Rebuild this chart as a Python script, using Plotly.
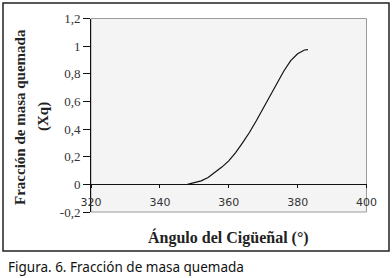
import plotly.graph_objects as go

# Data
angle = [348, 350, 352, 354, 356, 358, 360, 362, 364, 366, 368, 370, 372, 374, 376, 378, 380, 382, 383]
xq = [0.0, 0.01, 0.025, 0.05, 0.085, 0.125, 0.17, 0.23, 0.30, 0.375, 0.46, 0.55, 0.64, 0.735, 0.82, 0.895, 0.945, 0.972, 0.975]

y_tickvals = [-0.2, 0, 0.2, 0.4, 0.6, 0.8, 1.0, 1.2]
y_ticktext = ["-0,2", "0", "0,2", "0,4", "0,6", "0,8", "1", "1,2"]
x_tickvals = [320, 340, 360, 380, 400]
x_ticktext = ["320", "340", "360", "380", "400"]

W, H = 392, 278
x0d, x1d = 91 / W, 366.5 / W
y0d, y1d = 1 - 212 / H, 1 - 18.5 / H
zero_pos = y0d + (y1d - y0d) * (0.2 / 1.4)

fig = go.Figure()
fig.add_trace(go.Scatter(x=angle, y=xq, mode="lines",
                         line=dict(color="#111111", width=1.2),
                         showlegend=False, hoverinfo="skip"))

fig.update_layout(
    template="none",
    width=W, height=H, autosize=False,
    margin=dict(l=0, r=0, t=0, b=0, pad=0),
    paper_bgcolor="white",
    plot_bgcolor="#f4f4f4",
    xaxis=dict(domain=[x0d, x1d], range=[320, 400], anchor="free", position=zero_pos,
               automargin=False,
               showgrid=False, zeroline=False, showline=True, linecolor="#111111", linewidth=1,
               ticks="outside", ticklen=3, tickcolor="#111111",
               tickvals=x_tickvals, ticktext=x_ticktext,
               tickfont=dict(family="DejaVu Sans", size=11, color="#333333"),
               ticklabelstandoff=4),
    yaxis=dict(domain=[y0d, y1d], range=[-0.2, 1.2], anchor="x",
               automargin=False,
               showgrid=False, zeroline=False, showline=True, linecolor="#111111", linewidth=1,
               ticks="outside", ticklen=7, tickcolor="#111111",
               tickvals=y_tickvals, ticktext=y_ticktext,
               tickfont=dict(family="Liberation Serif", size=13, color="#333333")),
    shapes=[
        dict(type="rect", xref="x domain", yref="y domain", x0=0, x1=1, y0=0, y1=1,
             line=dict(color="#9a9a9a", width=1), layer="below"),
        dict(type="rect", xref="paper", yref="paper",
             x0=3 / W, x1=389 / W, y0=1 - 251 / H, y1=1 - 3 / H,
             line=dict(color="#222222", width=1.5)),
    ],
    annotations=[
        dict(text="<b>Fracción de masa quemada</b>", xref="paper", yref="paper",
             x=20 / W, y=1 - 117 / H, xanchor="center", yanchor="middle",
             textangle=-90, showarrow=False,
             font=dict(family="Liberation Serif", size=15, color="#222222")),
        dict(text="<b>(Xq)</b>", xref="paper", yref="paper",
             x=43 / W, y=1 - 117 / H, xanchor="center", yanchor="middle",
             textangle=-90, showarrow=False,
             font=dict(family="Liberation Serif", size=15, color="#222222")),
        dict(text="<b>Ángulo del Cigüeñal (°)</b>", xref="paper", yref="paper",
             x=228.5 / W, y=1 - 237 / H, xanchor="center", yanchor="middle",
             showarrow=False,
             font=dict(family="Liberation Serif", size=16, color="#222222")),
        dict(text="Figura. 6. Fracción de masa quemada", xref="paper", yref="paper",
             x=6 / W, y=1 - 267 / H, xanchor="left", yanchor="middle", showarrow=False,
             font=dict(family="Noto Sans", size=13.5, color="#111111")),
    ],
)

fig.write_html("out.html", config={"displayModeBar": False},
               post_script="document.body.style.margin='0';document.body.style.overflow='hidden';")
